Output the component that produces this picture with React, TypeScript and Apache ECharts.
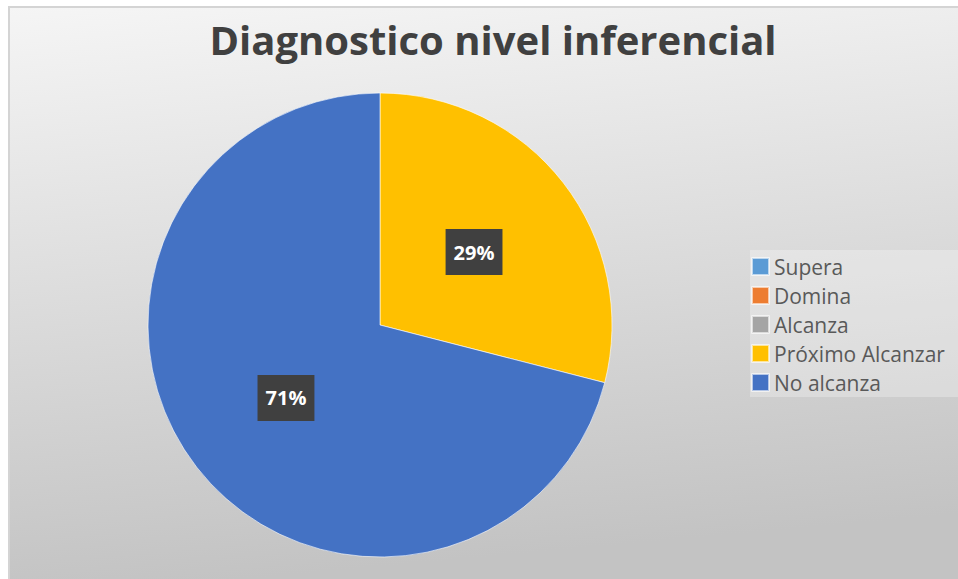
import React, { useEffect, useRef } from "react";
import * as echarts from "echarts";

const titleText = "Diagnostico nivel inferencial";
const categories = ["Supera", "Domina", "Alcanza", "Próximo Alcanzar", "No alcanza"];
const values = [0, 0, 0, 29, 71];
const colors = ["#5B9BD5", "#ED7D31", "#A5A5A5", "#FFC000", "#4472C4"];

export default function App() {
  const ref = useRef<HTMLDivElement>(null);
  useEffect(() => {
    if (!ref.current) return;
    const chart = echarts.init(ref.current, null, { renderer: "svg" });
    chart.setOption({
      animation: false,
      backgroundColor: "#ffffff",
      title: {
        text: titleText,
        left: 488,
        textAlign: "center",
        top: 14,
        textStyle: {
          fontFamily: "Open Sans",
          fontWeight: "bold",
          fontSize: 40,
          color: "#404040",
        },
      },
      graphic: [
        {
          type: "rect",
          z: -10,
          silent: true,
          shape: { x: 9, y: 7, width: 960, height: 580 },
          style: {
            fill: new echarts.graphic.LinearGradient(0, 0, 0.15, 1, [
              { offset: 0, color: "#f5f5f5" },
              { offset: 1, color: "#c3c3c3" },
            ]),
            stroke: "#d4d4d4",
            lineWidth: 2,
          },
        },
        {
          type: "rect",
          z: -5,
          silent: true,
          shape: { x: 750, y: 250, width: 210, height: 147 },
          style: { fill: "rgba(255,255,255,0.28)" },
        },
      ],
      legend: {
        orient: "vertical",
        left: 746,
        top: 251,
        itemWidth: 17,
        itemHeight: 17,
        itemGap: 8,
        itemTextGap: 5,
        icon: "rect",
        data: categories,
        textStyle: {
          fontFamily: "Open Sans",
          fontSize: 21,
          color: "#595959",
        },
      },
      series: [
        {
          type: "pie",
          center: [380, 325],
          radius: 232,
          startAngle: 90,
          clockwise: true,
          avoidLabelOverlap: false,
          itemStyle: { borderColor: "rgba(255,255,255,0.6)", borderWidth: 1 },
          label: {
            show: true,
            position: "inside",
            formatter: (p: any) => `${Math.round(p.percent)}%`,
            backgroundColor: "#404040",
            padding: [13, 8],
            color: "#ffffff",
            fontFamily: "Open Sans",
            fontWeight: "bold",
            fontSize: 20,
          },
          labelLine: { show: false },
          data: categories.map((name, i) => ({
            name,
            value: values[i],
            itemStyle: { color: colors[i] },
            label: { show: values[i] > 0 },
          })),
        },
      ],
    });
    return () => chart.dispose();
  }, []);
  return (
    <div
      ref={ref}
      style={{ position: "absolute", left: 0, top: 0, width: 958, height: 579 }}
    />
  );
}
